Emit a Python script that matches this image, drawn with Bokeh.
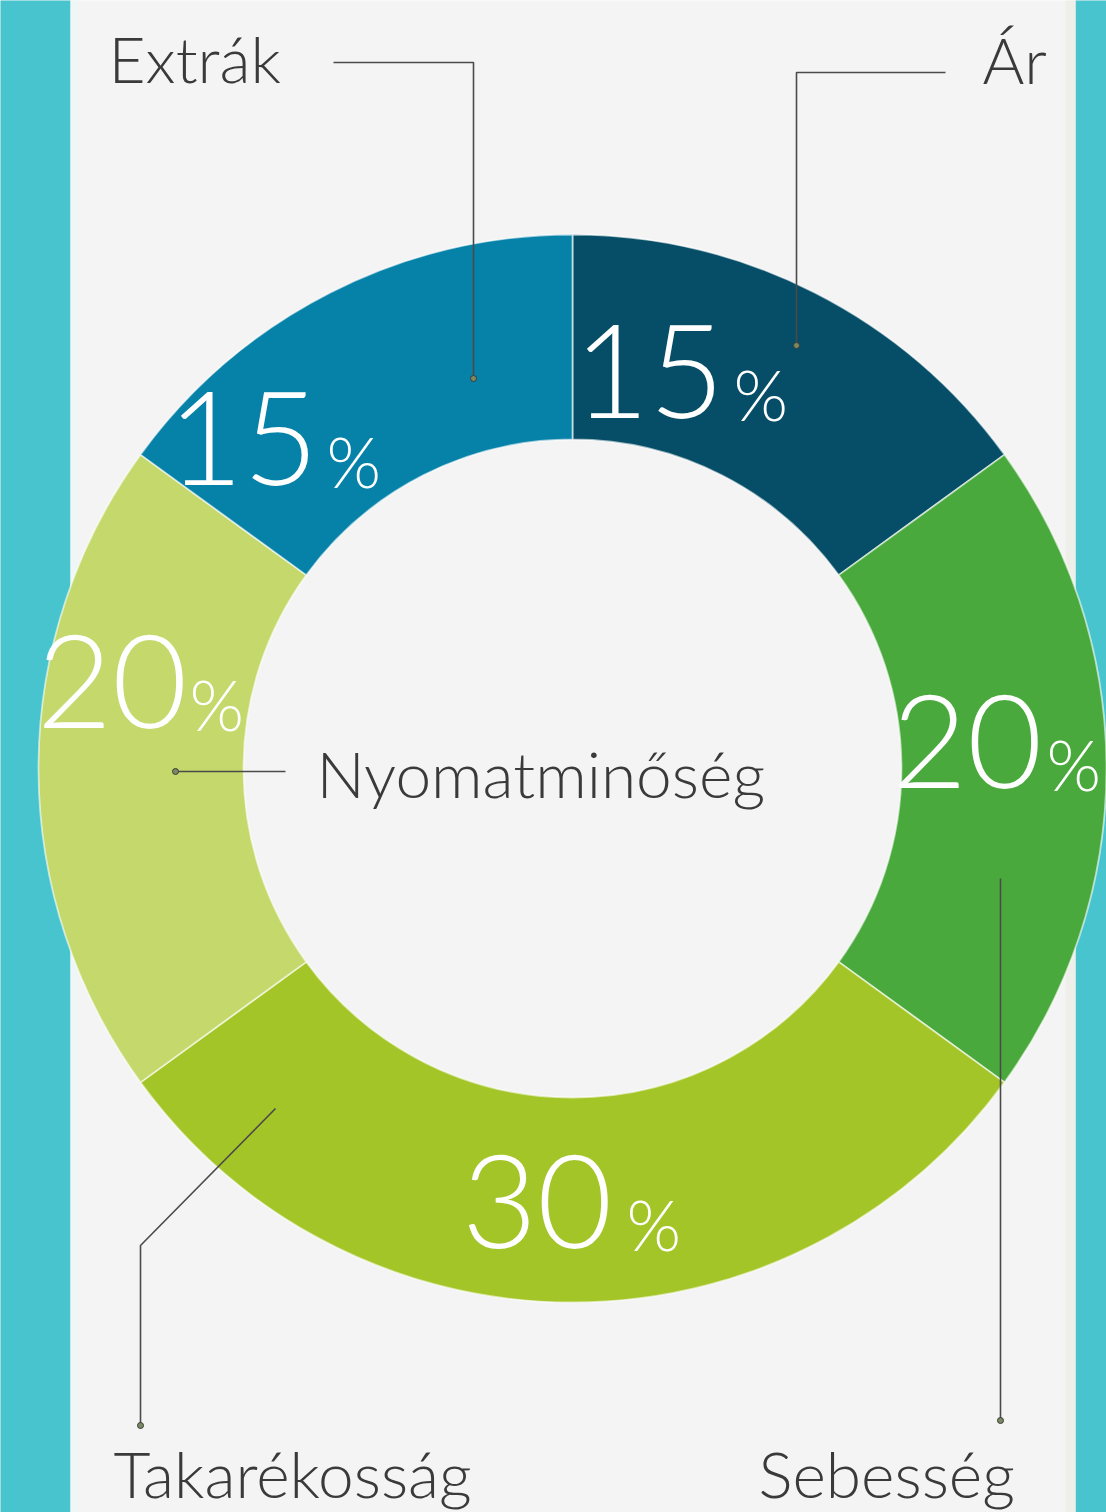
import math
from bokeh.plotting import figure
from bokeh.models import Range1d, ColumnDataSource
from bokeh.core.properties import value
from bokeh.embed import file_html
from bokeh.resources import INLINE

# ---- data ----
categories = ["Ár", "Sebesség", "Takarékosság", "Nyomatminőség", "Extrák"]
shares = [15, 20, 30, 20, 15]
slice_colors = ["#064e67", "#4aa93c", "#a4c527", "#c4d86b", "#0682a9"]

# ---- layout (screen pixel coordinates of the 1106x1512 picture) ----
W, H = 1106, 1512
CX, CY = 572, 768
R_OUT, R_IN = 534, 329
BG = "#f4f4f4"
CYAN = "#48c4cf"
TEXT = "#3a3a3a"
LABEL_FONT = "Lato Light, Open Sans Light, Roboto Light, Lato, sans-serif"
NUM_PX, PCT_PX, NAME_PX = 130, 70, 64
BASE_FIX = 0.38  # the svg text sits this many em below the requested baseline


def sy(y, size=0):
    return H - (y - BASE_FIX * size)


# percentage label anchors per category: (number right edge, % left edge, baseline)
pct_pos = [(724, 733, 420), (1042, 1046, 790), (612, 626, 1250), (187, 189, 730), (318, 326, 487)]
# name labels per category: (x, baseline)
name_pos = [(982, 83), (758, 1497), (113, 1497), (316, 797), (108, 82)]
# leader polylines per category
leaders = [
    [(945, 72), (796, 72), (796, 345)],
    [(1000, 878), (1000, 1420)],
    [(275, 1108), (140, 1245), (140, 1425)],
    [(285, 771), (175, 771)],
    [(333, 62), (473, 62), (473, 378)],
]

p = figure(width=W, height=H, output_backend="svg", toolbar_location=None,
           x_range=Range1d(0, W), y_range=Range1d(0, H),
           min_border=0, background_fill_color=BG, border_fill_color=BG)
p.axis.visible = False
p.grid.visible = False
p.outline_line_color = None

# side strips
p.quad(left=[-10, 1075], right=[70, 1120], bottom=[-20, -20], top=[1530, 1530],
       fill_color=CYAN, line_color=None)
p.quad(left=[70, 1065], right=[77, 1075], bottom=[-20, -20], top=[1530, 1530],
       fill_color=["#eef6f6", "#efefea"], line_color=None)

# donut slices: clockwise from 12 o'clock
total = float(sum(shares))
starts, ends = [], []
acc = 0.0
for v in shares:
    a0 = math.pi / 2 - 2 * math.pi * acc / total
    acc += v
    a1 = math.pi / 2 - 2 * math.pi * acc / total
    starts.append(a1)
    ends.append(a0)
src = ColumnDataSource(dict(start=starts, end=ends, color=slice_colors,
                            x=[CX] * len(shares), y=[sy(CY)] * len(shares)))
p.annular_wedge(x="x", y="y", inner_radius=R_IN, outer_radius=R_OUT,
                start_angle="start", end_angle="end", fill_color="color",
                line_color="#ffffff", line_alpha=0.6, line_width=1.8, source=src)

# leader lines + dots
for pts in leaders:
    xs = [q[0] for q in pts]
    ys = [sy(q[1]) for q in pts]
    p.line(xs, ys, line_color="#4a4a4a", line_width=1.6)
    p.scatter([xs[-1]], [ys[-1]], size=6, marker="circle", fill_color="#7a8a60",
              line_color="#3a3a3a", line_width=1)

# percentage labels
for v, (xr, xl, yb) in zip(shares, pct_pos):
    p.text([xr], [sy(yb, NUM_PX)], text=[str(v)], text_align="right", text_baseline="alphabetic",
           text_font=value(LABEL_FONT), text_font_size=f"{NUM_PX}px", text_color="#ffffff")
    p.text([xl], [sy(yb, PCT_PX)], text=["%"], text_align="left", text_baseline="alphabetic",
           text_font=value(LABEL_FONT), text_font_size=f"{PCT_PX}px", text_color="#ffffff")

# category labels
for name, (x, yb) in zip(categories, name_pos):
    p.text([x], [sy(yb, NAME_PX)], text=[name], text_align="left", text_baseline="alphabetic",
           text_font=value(LABEL_FONT), text_font_size=f"{NAME_PX}px", text_color=TEXT)

open("out.html", "w").write(file_html(p, INLINE))
